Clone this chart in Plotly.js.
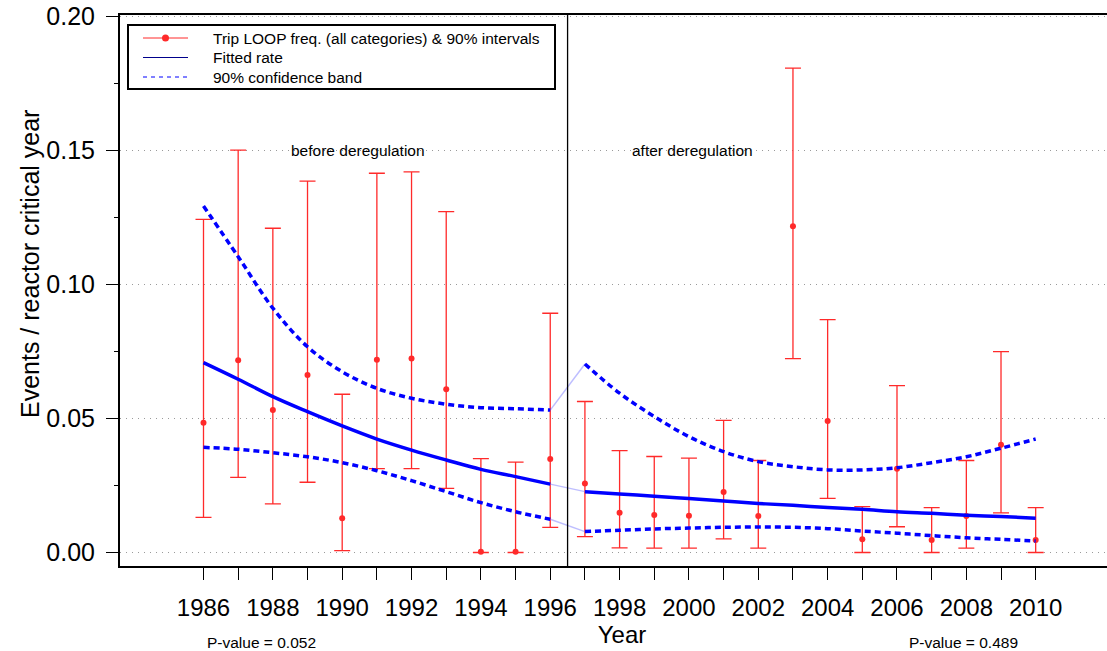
<!DOCTYPE html>
<html>
<head>
<meta charset="utf-8">
<script src="https://cdn.plot.ly/plotly-3.0.1.min.js"></script>
<style>
html, body { margin: 0; padding: 0; overflow: hidden; background: #fff; }
#chart { width: 1144px; height: 651px; }
</style>
</head>
<body>
<div id="chart"></div>
<script>
// ---- data ----
const years = [1986,1987,1988,1989,1990,1991,1992,1993,1994,1995,1996,1997,1998,1999,2000,2001,2002,2003,2004,2005,2006,2007,2008,2009,2010];
const freq  = [0.0484,0.0717,0.0531,0.0662,0.0128,0.0719,0.0723,0.0609,0.0003,0.0003,0.0349,0.0257,0.0148,0.0140,0.0137,0.0226,0.0136,0.1216,0.0490,0.0049,0.0312,0.0047,0.0136,0.0402,0.0047];
const upper = [0.1242,0.1500,0.1209,0.1385,0.0590,0.1414,0.1419,0.1271,0.0350,0.0337,0.0892,0.0563,0.0380,0.0358,0.0352,0.0493,0.0343,0.1806,0.0868,0.0171,0.0622,0.0167,0.0343,0.0749,0.0167];
const lower = [0.0131,0.0280,0.0181,0.0262,0.0007,0.0313,0.0313,0.0239,0.0000,0.0000,0.0094,0.0059,0.0017,0.0016,0.0016,0.0051,0.0016,0.0723,0.0202,0.0000,0.0096,0.0000,0.0016,0.0148,0.0000];

const yearsBefore = [1986,1987,1988,1989,1990,1991,1992,1993,1994,1995,1996];
const fitBefore   = [0.0708,0.0646,0.0581,0.0525,0.0472,0.0423,0.0382,0.0345,0.0310,0.0283,0.0255];
const upBefore    = [0.1292,0.1103,0.0911,0.0767,0.0674,0.0612,0.0575,0.0553,0.0540,0.0536,0.0531];
const loBefore    = [0.0392,0.0385,0.0372,0.0357,0.0335,0.0305,0.0268,0.0227,0.0186,0.0152,0.0124];

const yearsAfter = [1997,1998,1999,2000,2001,2002,2003,2004,2005,2006,2007,2008,2009,2010];
const fitAfter   = [0.0227,0.0218,0.0210,0.0201,0.0192,0.0183,0.0176,0.0168,0.0161,0.0152,0.0146,0.0139,0.0134,0.0128];
const upAfter    = [0.0703,0.0594,0.0507,0.0432,0.0376,0.0339,0.0320,0.0308,0.0308,0.0316,0.0335,0.0357,0.0389,0.0423];
const loAfter    = [0.0078,0.0083,0.0088,0.0091,0.0094,0.0095,0.0094,0.0089,0.0080,0.0072,0.0063,0.0055,0.0049,0.0043];

const xTickLabels = ["1986","","1988","","1990","","1992","","1994","","1996","","1998","","2000","","2002","","2004","","2006","","2008","","2010"];
const legendLabels = ["Trip LOOP freq. (all categories) & 90% intervals", "Fitted rate", "90% confidence band"];
const periodLabels = ["before deregulation", "after deregulation"];
const pValues = ["P-value = 0.052", "P-value = 0.489"];
const breakYear = 1996.5;

// ---- styles / geometry ----
const FONT = "Liberation Sans, Arial, Helvetica, sans-serif";
const RED = "#ff2a2a";
const BLUE = "#0000ff";
const fitLine = {color: BLUE, width: 3.5, shape: "spline"};
const bandLine = {color: BLUE, width: 3.5, dash: "6px,4px", shape: "spline"};
const faint = {color: "rgba(110,110,255,0.45)", width: 1.5};

const M = {l: 120, r: 20, t: 15, b: 85};
const W = 1144, H = 651;
const PW = W - M.l - M.r, PH = H - M.t - M.b;
const px2x = p => (p - M.l) / PW;          // page px -> paper x
const px2y = p => (H - M.b - p) / PH;      // page px -> paper y

const errPlus = upper.map((u, i) => u - freq[i]);
const errMinus = freq.map((f, i) => f - lower[i]);

const traces = [
  {
    x: years, y: freq, type: "scatter", mode: "markers", name: legendLabels[0],
    marker: {color: RED, size: 6},
    error_y: {type: "data", array: errPlus, arrayminus: errMinus, symmetric: false,
              color: RED, thickness: 1.3, width: 8},
    showlegend: false
  },
  {x: [yearsBefore[yearsBefore.length-1], yearsAfter[0]], y: [fitBefore[fitBefore.length-1], fitAfter[0]], mode: "lines", line: faint, showlegend: false, hoverinfo: "skip"},
  {x: [yearsBefore[yearsBefore.length-1], yearsAfter[0]], y: [upBefore[upBefore.length-1], upAfter[0]], mode: "lines", line: faint, showlegend: false, hoverinfo: "skip"},
  {x: [yearsBefore[yearsBefore.length-1], yearsAfter[0]], y: [loBefore[loBefore.length-1], loAfter[0]], mode: "lines", line: faint, showlegend: false, hoverinfo: "skip"},
  {x: yearsBefore, y: fitBefore, mode: "lines", name: legendLabels[1], line: fitLine, showlegend: false},
  {x: yearsAfter, y: fitAfter, mode: "lines", name: legendLabels[1], line: fitLine, showlegend: false},
  {x: yearsBefore, y: upBefore, mode: "lines", name: legendLabels[2], line: bandLine, showlegend: false},
  {x: yearsBefore, y: loBefore, mode: "lines", name: legendLabels[2], line: bandLine, showlegend: false},
  {x: yearsAfter, y: upAfter, mode: "lines", name: legendLabels[2], line: bandLine, showlegend: false},
  {x: yearsAfter, y: loAfter, mode: "lines", name: legendLabels[2], line: bandLine, showlegend: false}
];

// ---- hand-drawn legend box (R-style) ----
const legRows = [38, 57.5, 77];
const legShapes = [
  {type: "rect", xref: "paper", yref: "paper", x0: px2x(128), x1: px2x(555), y0: px2y(89), y1: px2y(25),
   line: {color: "#000", width: 2}, fillcolor: "#fff", layer: "above"},
  {type: "line", xref: "paper", yref: "paper", x0: px2x(143), x1: px2x(188), y0: px2y(legRows[0]), y1: px2y(legRows[0]),
   line: {color: RED, width: 1}, layer: "above"},
  {type: "circle", xref: "paper", yref: "paper", x0: px2x(162), x1: px2x(169), y0: px2y(legRows[0] + 3.5), y1: px2y(legRows[0] - 3.5),
   line: {color: RED, width: 0}, fillcolor: RED, layer: "above"},
  {type: "line", xref: "paper", yref: "paper", x0: px2x(143), x1: px2x(188), y0: px2y(legRows[1]), y1: px2y(legRows[1]),
   line: {color: "#00008b", width: 1}, layer: "above"},
  {type: "line", xref: "paper", yref: "paper", x0: px2x(143), x1: px2x(188), y0: px2y(legRows[2]), y1: px2y(legRows[2]),
   line: {color: BLUE, width: 1, dash: "4px,4px"}, layer: "above"}
];
const legAnns = legendLabels.map((t, i) => ({
  xref: "paper", yref: "paper", x: px2x(211), y: px2y(legRows[i]), text: t, showarrow: false,
  xanchor: "left", yanchor: "middle", font: {family: FONT, size: 15.5, color: "#000"}
}));

const layout = {
  width: W, height: H,
  margin: M,
  paper_bgcolor: "#fff", plot_bgcolor: "#fff",
  font: {family: FONT, color: "#000"},
  showlegend: false,
  xaxis: {
    range: [1983.592, 2012.547],
    tickmode: "array", tickvals: years, ticktext: xTickLabels,
    ticks: "outside", ticklen: 12, tickwidth: 1, tickcolor: "#000",
    ticklabelstandoff: 7,
    tickfont: {family: FONT, size: 24, color: "#000"},
    showgrid: false, zeroline: false,
    showline: true, linecolor: "#000", linewidth: 2, mirror: true,
    title: {text: "Year", font: {family: FONT, size: 24, color: "#000"}, standoff: 4},
    automargin: false
  },
  yaxis: {
    range: [-0.00503, 0.20041],
    tickmode: "linear", tick0: 0, dtick: 0.05, tickformat: ".2f",
    ticks: "outside", ticklen: 12, tickwidth: 1, tickcolor: "#000",
    ticklabelstandoff: 6,
    tickfont: {family: FONT, size: 25, color: "#000"},
    minor: {tick0: 0, dtick: 0.025, ticks: "outside", ticklen: 4, tickwidth: 1, tickcolor: "#000", showgrid: false},
    showgrid: true, gridcolor: "#9a9a9a", gridwidth: 1, griddash: "1px,5px",
    zeroline: false,
    showline: true, linecolor: "#000", linewidth: 2,
    automargin: false
  },
  shapes: [
    {type: "line", xref: "x", yref: "paper", x0: breakYear, x1: breakYear, y0: 0, y1: 1,
     line: {color: "#000", width: 1.3}, layer: "above"}
  ].concat(legShapes),
  annotations: [
    {xref: "x", yref: "y", x: 1990.47, y: 0.15, text: periodLabels[0], showarrow: false,
     xanchor: "center", yanchor: "middle", font: {family: FONT, size: 15.5, color: "#000"}},
    {xref: "x", yref: "y", x: 2000.1, y: 0.15, text: periodLabels[1], showarrow: false,
     xanchor: "center", yanchor: "middle", font: {family: FONT, size: 15.5, color: "#000"}},
    {xref: "x", yref: "paper", x: 1987.66, y: -0.1397, text: pValues[0], showarrow: false,
     xanchor: "center", yanchor: "middle", font: {family: FONT, size: 15.5, color: "#000"}},
    {xref: "x", yref: "paper", x: 2007.93, y: -0.1397, text: pValues[1], showarrow: false,
     xanchor: "center", yanchor: "middle", font: {family: FONT, size: 15.5, color: "#000"}},
    {xref: "paper", yref: "paper", x: px2x(30), y: px2y(264), text: "Events / reactor critical year", showarrow: false,
     textangle: -90, xanchor: "center", yanchor: "middle", font: {family: FONT, size: 25, color: "#000"}}
  ].concat(legAnns)
};

Plotly.newPlot("chart", traces, layout, {staticPlot: true, displayModeBar: false});
</script>
</body>
</html>
